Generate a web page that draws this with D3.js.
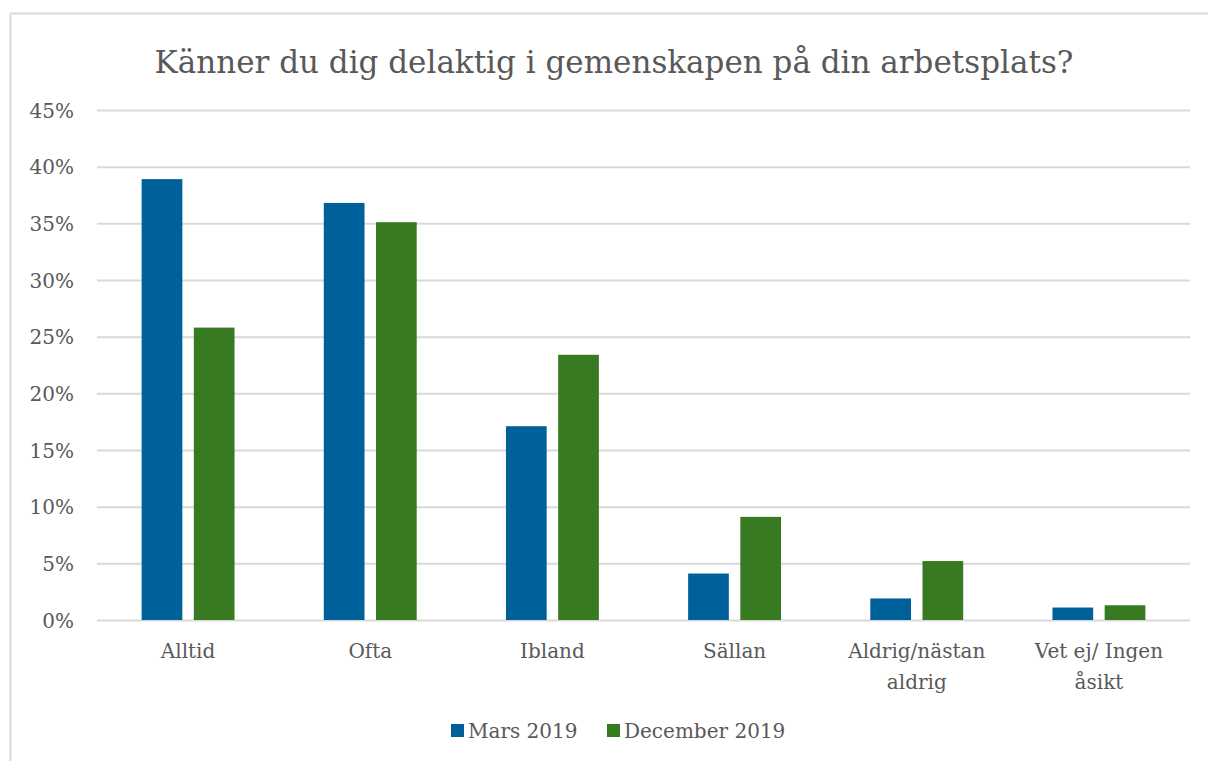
<!DOCTYPE html>
<html>
<head>
<meta charset="utf-8">
<script src="https://cdn.jsdelivr.net/npm/d3@7"></script>
<style>
	body { margin: 0; background: #fff; }
	svg { display: block; }
	svg text { font-family: "DejaVu Serif", "Liberation Serif", serif; }
	.grid line { stroke: #d9d9d9; stroke-width: 2; }
	.grid .domain { display: none; }
	.y.axis .domain, .y.axis line, .x.axis .domain, .x.axis line { display: none; }
	.axis text { fill: #595959; }
</style>
</head>
<body>
<svg id="chart"></svg>
<script>
var categories = ["Alltid", "Ofta", "Ibland", "Sällan", "Aldrig/nästan aldrig", "Vet ej/ Ingen åsikt"];
var seriesNames = ["Mars 2019", "December 2019"];
var mars2019 = [0.389, 0.368, 0.171, 0.041, 0.019, 0.011];
var dec2019 = [0.258, 0.351, 0.234, 0.091, 0.052, 0.013];
var yTicks = [0, 0.05, 0.10, 0.15, 0.20, 0.25, 0.30, 0.35, 0.40, 0.45];
var colors = ["#00609a", "#387a21"];

var W = 1208, H = 761;
var margin = {top: 110, right: 18, bottom: 141, left: 97},
	width = W - margin.left - margin.right,
	height = H - margin.top - margin.bottom;

var svg = d3.select("#chart").attr("width", W).attr("height", H);

// outer frame
svg.append("rect")
	.attr("x", 10.5).attr("y", 13.5)
	.attr("width", W + 20).attr("height", H + 20)
	.attr("fill", "none").attr("stroke", "#d9d9d9").attr("stroke-width", 2);

svg.append("text")
	.attr("x", 614).attr("y", 73)
	.attr("text-anchor", "middle")
	.style("font-size", "31px").style("fill", "#595959")
	.text("Känner du dig delaktig i gemenskapen på din arbetsplats?");

var g = svg.append("g").attr("transform", "translate(" + margin.left + "," + margin.top + ")");

var x0 = d3.scaleBand().domain(categories).range([0, width]).paddingInner(0.49).paddingOuter(0.245);
var x1 = d3.scaleBand().domain(seriesNames).range([0, x0.bandwidth()]).paddingInner(0.22);
var y = d3.scaleLinear().domain([0, 0.45]).range([height, 0]);

g.append("g").attr("class", "grid")
	.call(d3.axisLeft(y).tickValues(yTicks).tickSize(-width).tickFormat(""));

g.append("g").attr("class", "y axis")
	.call(d3.axisLeft(y).tickValues(yTicks).tickFormat(d3.format(".0%")).tickPadding(17))
	.selectAll("text").style("font-size", "20px").attr("dy", "0.35em");

var data = categories.map(function(c, i) {
	return {category: c, values: [{name: seriesNames[0], v: mars2019[i]}, {name: seriesNames[1], v: dec2019[i]}]};
});

var groups = g.selectAll(".category").data(data).enter().append("g")
	.attr("class", "category")
	.attr("transform", function(d) { return "translate(" + x0(d.category) + ",0)"; });
groups.selectAll("rect").data(function(d) { return d.values; }).enter().append("rect")
	.attr("x", function(d) { return x1(d.name); })
	.attr("y", function(d) { return y(d.v); })
	.attr("width", x1.bandwidth())
	.attr("height", function(d) { return height - y(d.v); })
	.attr("fill", function(d, i) { return colors[i]; });

var xAxis = g.append("g").attr("class", "x axis")
	.attr("transform", "translate(0," + height + ")")
	.call(d3.axisBottom(x0).tickSize(0).tickPadding(24));
xAxis.selectAll("text").style("font-size", "20px").call(wrap, 165);

// d3 axes set sans-serif on the group; drop it so the css font applies
svg.selectAll(".axis").attr("font-family", null);

function wrap(texts, w) {
	texts.each(function() {
		var text = d3.select(this), words = text.text().split(/\s+/),
			line = [], lines = [];
		text.text(null);
		var probe = text.append("tspan");
		words.forEach(function(word) {
			line.push(word);
			probe.text(line.join(" "));
			if (probe.node().getComputedTextLength() > w && line.length > 1) {
				line.pop();
				lines.push(line.join(" "));
				line = [word];
			}
		});
		lines.push(line.join(" "));
		probe.remove();
		var yAttr = text.attr("y");
		lines.forEach(function(l, i) {
			text.append("tspan").attr("x", 0).attr("y", yAttr)
				.attr("dy", (0.71 + i * 1.55) + "em").text(l);
		});
	});
}

// legend
var legend = svg.append("g").selectAll("g").data(seriesNames).enter().append("g")
	.attr("transform", function(d, i) { return "translate(" + [451, 607][i] + ",724)"; });
legend.append("rect").attr("width", 13).attr("height", 13)
	.attr("fill", function(d, i) { return colors[i]; });
legend.append("text").attr("x", 17).attr("y", 6.5).attr("dy", "0.35em")
	.style("font-size", "20px").style("fill", "#595959")
	.text(function(d) { return d; });
</script>
</body>
</html>
